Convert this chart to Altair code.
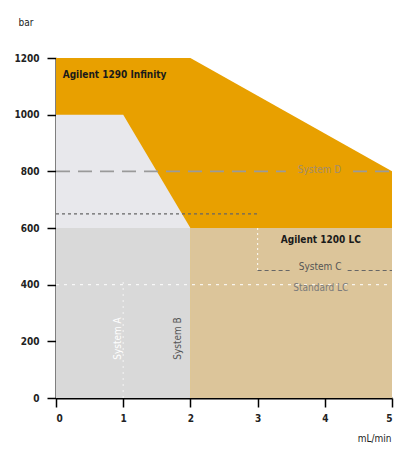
import altair as alt
import pandas as pd

# ---- data ----
envelope_x = [0, 2, 5]
envelope_y = [1200, 1200, 800]

sysA_x = [0, 1, 2]
sysA_y = [1000, 1000, 600]

rect_x = [0, 2]
rect_x2 = [2, 5]
rect_y = [0, 0]
rect_y2 = [600, 600]
rect_color = ["#d9d9d9", "#dcc59a"]

# reference lines (segments; gaps left where labels sit)
lines_x = [0, 4.42, 0, 3, 4.34, 0, 3, 1]
lines_x2 = [3.42, 5, 3, 3.52, 5, 5, 3, 1]
lines_y = [800, 800, 650, 450, 450, 400, 600, 0]
lines_y2 = [800, 800, 650, 450, 450, 400, 450, 420]
lines_kind = ["D", "D", "dot", "C", "C", "std", "vC", "vA"]

labels_text = ["Agilent 1290 Infinity", "System D", "Agilent 1200 LC", "System C", "Standard LC"]
labels_x = [0.1, 3.92, 3.94, 3.93, 3.94]
labels_y = [1140, 805, 558, 462, 390]
labels_color = ["#1a1a1a", "#a08c6e", "#1a1a1a", "#555555", "#7a7a7a"]
labels_weight = ["bold", "normal", "bold", "normal", "normal"]
labels_align = ["left", "center", "center", "center", "center"]

vlabels_text = ["System A", "System B"]
vlabels_x = [0.93, 1.81]
vlabels_y = [210, 210]
vlabels_color = ["#ffffff", "#555555"]

x_ticks = [0, 1, 2, 3, 4, 5]
y_ticks = [0, 200, 400, 600, 800, 1000, 1200]

FONT = "DejaVu Sans Condensed"
W, H = 336, 340

xs = alt.Scale(domain=[0, 5], nice=False)
ys = alt.Scale(domain=[0, 1200], nice=False)

x_axis = alt.Axis(values=x_ticks, format="d", title="mL/min", titleAngle=0,
                  titleX=W - 1, titleY=40, titleAlign="right", titleBaseline="middle",
                  labelPadding=6, tickSize=9)
y_axis = alt.Axis(values=y_ticks, format="d", title="bar", titleAngle=0,
                  titleX=-38, titleY=-36, titleAlign="left", titleBaseline="middle",
                  labelPadding=8, tickSize=9)

env_df = pd.DataFrame({"x": envelope_x, "y": envelope_y, "y0": [0] * len(envelope_x)})
orange = alt.Chart(env_df).mark_area(color="#e8a000", opacity=1).encode(
    x=alt.X("x:Q", scale=xs, axis=x_axis),
    y=alt.Y("y:Q", scale=ys, axis=y_axis),
    y2="y0:Q",
)

a_df = pd.DataFrame({"x": sysA_x, "y": sysA_y, "y0": [0] * len(sysA_x)})
lightgray = alt.Chart(a_df).mark_area(color="#e8e8ec", opacity=1).encode(
    x=alt.X("x:Q", scale=xs), y=alt.Y("y:Q", scale=ys), y2="y0:Q"
)

r_df = pd.DataFrame({"x": rect_x, "x2": rect_x2, "y": rect_y, "y2": rect_y2, "c": rect_color})
rects = alt.Chart(r_df).mark_rect().encode(
    x=alt.X("x:Q", scale=xs), x2="x2:Q",
    y=alt.Y("y:Q", scale=ys), y2="y2:Q",
    color=alt.Color("c:N", scale=None),
)

l_df = pd.DataFrame({"x": lines_x, "x2": lines_x2, "y": lines_y, "y2": lines_y2, "k": lines_kind})

def rule(kind, color, dash, width, op=1.0):
    return alt.Chart(l_df[l_df.k == kind]).mark_rule(
        color=color, strokeDash=dash, strokeWidth=width, opacity=op
    ).encode(x=alt.X("x:Q", scale=xs), x2="x2:Q", y=alt.Y("y:Q", scale=ys), y2="y2:Q")

rules = [
    rule("D", "#9a9a9a", [14, 8], 1.6),
    rule("dot", "#666666", [3, 3], 1.2),
    rule("C", "#666666", [4, 3], 1.2),
    rule("std", "#ffffff", [3, 5], 1.2, 0.8),
    rule("vC", "#ffffff", [2, 3], 1.2, 0.8),
    rule("vA", "#ffffff", [2, 4], 1.2, 0.6),
]

texts = []
for i in range(len(labels_text)):
    row = pd.DataFrame({"t": [labels_text[i]], "x": [labels_x[i]], "y": [labels_y[i]],
                        "c": [labels_color[i]]})
    texts.append(alt.Chart(row).mark_text(
        font=FONT, fontSize=10, fontWeight=labels_weight[i], align=labels_align[i],
        baseline="middle"
    ).encode(x=alt.X("x:Q", scale=xs), y=alt.Y("y:Q", scale=ys), text="t:N",
             color=alt.Color("c:N", scale=None)))

v_df = pd.DataFrame({"t": vlabels_text, "x": vlabels_x, "y": vlabels_y, "c": vlabels_color})
vtexts = alt.Chart(v_df).mark_text(font=FONT, fontSize=10, angle=270, align="center",
                                   baseline="middle").encode(
    x=alt.X("x:Q", scale=xs), y=alt.Y("y:Q", scale=ys), text="t:N",
    color=alt.Color("c:N", scale=None))

chart = alt.layer(orange, lightgray, rects, *rules, *texts, vtexts).properties(
    width=W, height=H,
    autosize=alt.AutoSizeParams(type="none"),
    padding={"left": 48, "top": 50, "right": 2, "bottom": 47},
).configure_view(stroke=None).configure_axis(
    grid=False, domainColor="#000000", domainWidth=2, tickColor="#000000", tickWidth=1.5,
    labelFont=FONT, labelFontSize=10, labelColor="#222222", labelFontWeight="bold",
    titleFont=FONT, titleFontSize=10, titleColor="#222222", titleFontWeight="normal",
)

chart.save("out.html", embed_options={"renderer": "svg", "actions": False})
